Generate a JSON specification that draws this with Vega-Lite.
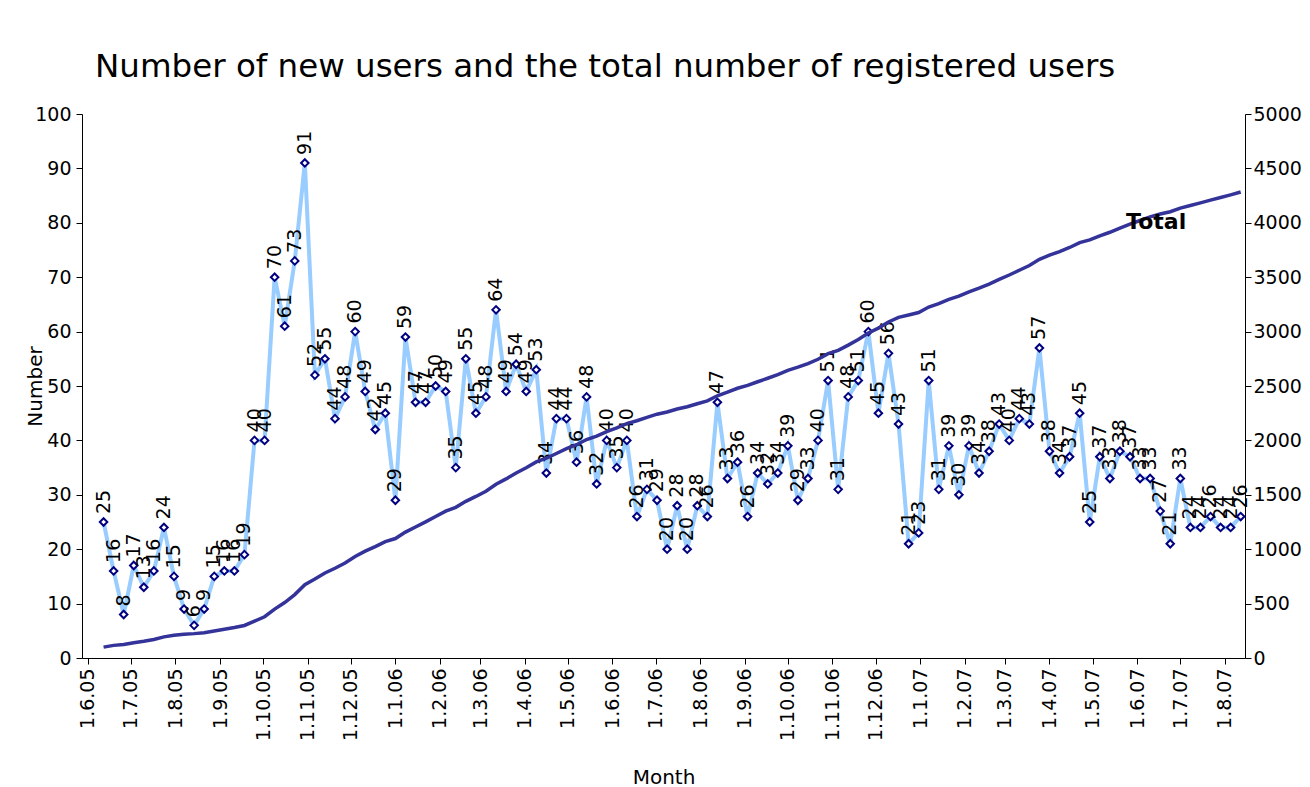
{
  "$schema": "https://vega.github.io/schema/vega-lite/v6.json",
  "width": 1163,
  "height": 544,
  "autosize": {"type": "none"},
  "padding": {"left": 82, "top": 114, "right": 65, "bottom": 129},
  "background": "white",
  "config": {
    "view": {"stroke": null},
    "font": "DejaVu Sans",
    "axis": {
      "labelFont": "DejaVu Sans",
      "titleFont": "DejaVu Sans",
      "labelColor": "black",
      "titleColor": "black",
      "domainColor": "black",
      "tickColor": "black",
      "grid": false,
      "labelFontSize": 19,
      "titleFontSize": 20,
      "titleFontWeight": "normal",
      "tickSize": 6
    }
  },
  "title": {
    "text": "Number of new users and the total number of registered users",
    "anchor": "start",
    "frame": "group",
    "dx": 13,
    "offset": 22,
    "font": "DejaVu Sans",
    "fontSize": 32.5,
    "fontWeight": "normal",
    "color": "black"
  },
  "data": {
    "format": {"parse": {"date": "date:'%Y-%m-%d'"}},
    "values": [
      {"date": "2005-06-12", "new": 25, "total": 100},
      {"date": "2005-06-19", "new": 16, "total": 116},
      {"date": "2005-06-26", "new": 8, "total": 124},
      {"date": "2005-07-03", "new": 17, "total": 141},
      {"date": "2005-07-10", "new": 13, "total": 154},
      {"date": "2005-07-17", "new": 16, "total": 170},
      {"date": "2005-07-24", "new": 24, "total": 194},
      {"date": "2005-07-31", "new": 15, "total": 209},
      {"date": "2005-08-07", "new": 9, "total": 218},
      {"date": "2005-08-14", "new": 6, "total": 224},
      {"date": "2005-08-21", "new": 9, "total": 233},
      {"date": "2005-08-28", "new": 15, "total": 248},
      {"date": "2005-09-04", "new": 16, "total": 264},
      {"date": "2005-09-11", "new": 16, "total": 280},
      {"date": "2005-09-18", "new": 19, "total": 299},
      {"date": "2005-09-25", "new": 40, "total": 339},
      {"date": "2005-10-02", "new": 40, "total": 379},
      {"date": "2005-10-09", "new": 70, "total": 449},
      {"date": "2005-10-16", "new": 61, "total": 510},
      {"date": "2005-10-23", "new": 73, "total": 583},
      {"date": "2005-10-30", "new": 91, "total": 674},
      {"date": "2005-11-06", "new": 52, "total": 726},
      {"date": "2005-11-13", "new": 55, "total": 781},
      {"date": "2005-11-20", "new": 44, "total": 825},
      {"date": "2005-11-27", "new": 48, "total": 873},
      {"date": "2005-12-04", "new": 60, "total": 933},
      {"date": "2005-12-11", "new": 49, "total": 982},
      {"date": "2005-12-18", "new": 42, "total": 1024},
      {"date": "2005-12-25", "new": 45, "total": 1069},
      {"date": "2006-01-01", "new": 29, "total": 1098},
      {"date": "2006-01-08", "new": 59, "total": 1157},
      {"date": "2006-01-15", "new": 47, "total": 1204},
      {"date": "2006-01-22", "new": 47, "total": 1251},
      {"date": "2006-01-29", "new": 50, "total": 1301},
      {"date": "2006-02-05", "new": 49, "total": 1350},
      {"date": "2006-02-12", "new": 35, "total": 1385},
      {"date": "2006-02-19", "new": 55, "total": 1440},
      {"date": "2006-02-26", "new": 45, "total": 1485},
      {"date": "2006-03-05", "new": 48, "total": 1533},
      {"date": "2006-03-12", "new": 64, "total": 1597},
      {"date": "2006-03-19", "new": 49, "total": 1646},
      {"date": "2006-03-26", "new": 54, "total": 1700},
      {"date": "2006-04-02", "new": 49, "total": 1749},
      {"date": "2006-04-09", "new": 53, "total": 1802},
      {"date": "2006-04-16", "new": 34, "total": 1836},
      {"date": "2006-04-23", "new": 44, "total": 1880},
      {"date": "2006-04-30", "new": 44, "total": 1924},
      {"date": "2006-05-07", "new": 36, "total": 1960},
      {"date": "2006-05-14", "new": 48, "total": 2008},
      {"date": "2006-05-21", "new": 32, "total": 2040},
      {"date": "2006-05-28", "new": 40, "total": 2080},
      {"date": "2006-06-04", "new": 35, "total": 2115},
      {"date": "2006-06-11", "new": 40, "total": 2155},
      {"date": "2006-06-18", "new": 26, "total": 2181},
      {"date": "2006-06-25", "new": 31, "total": 2212},
      {"date": "2006-07-02", "new": 29, "total": 2241},
      {"date": "2006-07-09", "new": 20, "total": 2261},
      {"date": "2006-07-16", "new": 28, "total": 2289},
      {"date": "2006-07-23", "new": 20, "total": 2309},
      {"date": "2006-07-30", "new": 28, "total": 2337},
      {"date": "2006-08-06", "new": 26, "total": 2363},
      {"date": "2006-08-13", "new": 47, "total": 2410},
      {"date": "2006-08-20", "new": 33, "total": 2443},
      {"date": "2006-08-27", "new": 36, "total": 2479},
      {"date": "2006-09-03", "new": 26, "total": 2505},
      {"date": "2006-09-10", "new": 34, "total": 2539},
      {"date": "2006-09-17", "new": 32, "total": 2571},
      {"date": "2006-09-24", "new": 34, "total": 2605},
      {"date": "2006-10-01", "new": 39, "total": 2644},
      {"date": "2006-10-08", "new": 29, "total": 2673},
      {"date": "2006-10-15", "new": 33, "total": 2706},
      {"date": "2006-10-22", "new": 40, "total": 2746},
      {"date": "2006-10-29", "new": 51, "total": 2797},
      {"date": "2006-11-05", "new": 31, "total": 2828},
      {"date": "2006-11-12", "new": 48, "total": 2876},
      {"date": "2006-11-19", "new": 51, "total": 2927},
      {"date": "2006-11-26", "new": 60, "total": 2987},
      {"date": "2006-12-03", "new": 45, "total": 3032},
      {"date": "2006-12-10", "new": 56, "total": 3088},
      {"date": "2006-12-17", "new": 43, "total": 3131},
      {"date": "2006-12-24", "new": 21, "total": 3152},
      {"date": "2006-12-31", "new": 23, "total": 3175},
      {"date": "2007-01-07", "new": 51, "total": 3226},
      {"date": "2007-01-14", "new": 31, "total": 3257},
      {"date": "2007-01-21", "new": 39, "total": 3296},
      {"date": "2007-01-28", "new": 30, "total": 3326},
      {"date": "2007-02-04", "new": 39, "total": 3365},
      {"date": "2007-02-11", "new": 34, "total": 3399},
      {"date": "2007-02-18", "new": 38, "total": 3437},
      {"date": "2007-02-25", "new": 43, "total": 3480},
      {"date": "2007-03-04", "new": 40, "total": 3520},
      {"date": "2007-03-11", "new": 44, "total": 3564},
      {"date": "2007-03-18", "new": 43, "total": 3607},
      {"date": "2007-03-25", "new": 57, "total": 3664},
      {"date": "2007-04-01", "new": 38, "total": 3702},
      {"date": "2007-04-08", "new": 34, "total": 3736},
      {"date": "2007-04-15", "new": 37, "total": 3773},
      {"date": "2007-04-22", "new": 45, "total": 3818},
      {"date": "2007-04-29", "new": 25, "total": 3843},
      {"date": "2007-05-06", "new": 37, "total": 3880},
      {"date": "2007-05-13", "new": 33, "total": 3913},
      {"date": "2007-05-20", "new": 38, "total": 3951},
      {"date": "2007-05-27", "new": 37, "total": 3988},
      {"date": "2007-06-03", "new": 33, "total": 4021},
      {"date": "2007-06-10", "new": 33, "total": 4054},
      {"date": "2007-06-17", "new": 27, "total": 4081},
      {"date": "2007-06-24", "new": 21, "total": 4102},
      {"date": "2007-07-01", "new": 33, "total": 4135},
      {"date": "2007-07-08", "new": 24, "total": 4159},
      {"date": "2007-07-15", "new": 24, "total": 4183},
      {"date": "2007-07-22", "new": 26, "total": 4209},
      {"date": "2007-07-29", "new": 24, "total": 4233},
      {"date": "2007-08-05", "new": 24, "total": 4257},
      {"date": "2007-08-12", "new": 26, "total": 4283}
    ]
  },
  "encoding": {
    "x": {
      "field": "date",
      "type": "temporal",
      "scale": {
        "domain": [
          {"year": 2005, "month": "May", "date": 28},
          {"year": 2007, "month": "Aug", "date": 15}
        ],
        "nice": false
      },
      "axis": {
        "title": "Month",
        "format": "%-d.%-m.%y",
        "tickCount": {"interval": "month", "step": 1},
        "labelAngle": 270,
        "labelAlign": "right",
        "labelBaseline": "middle",
        "labelPadding": 4,
        "labelOverlap": false,
        "labelFlush": false,
        "titleBaseline": "middle",
        "titleY": 119
      }
    }
  },
  "layer": [
    {
      "encoding": {
        "y": {
          "field": "new",
          "type": "quantitative",
          "scale": {"domain": [0, 100], "nice": false},
          "axis": {
            "orient": "left",
            "title": "Number",
            "values": [0, 10, 20, 30, 40, 50, 60, 70, 80, 90, 100],
            "labelPadding": 5,
            "titleX": -47,
            "titleY": 272,
            "titleAngle": 270,
            "titleAlign": "center",
            "titleBaseline": "middle"
          }
        }
      },
      "layer": [
        {
          "mark": {"type": "line", "color": "#99CCFF", "strokeWidth": 4}
        },
        {
          "mark": {
            "type": "point",
            "shape": "diamond",
            "filled": true,
            "fill": "white",
            "stroke": "#000080",
            "strokeWidth": 2,
            "size": 56,
            "opacity": 1
          }
        },
        {
          "mark": {
            "type": "text",
            "angle": 270,
            "align": "left",
            "baseline": "middle",
            "dx": 8,
            "fontSize": 19,
            "font": "DejaVu Sans",
            "color": "black"
          },
          "encoding": {"text": {"field": "new", "type": "quantitative"}}
        }
      ]
    },
    {
      "encoding": {
        "y": {
          "field": "total",
          "type": "quantitative",
          "scale": {"domain": [0, 5000], "nice": false},
          "axis": {
            "orient": "right",
            "title": null,
            "values": [0, 500, 1000, 1500, 2000, 2500, 3000, 3500, 4000, 4500, 5000],
            "format": "d",
            "labelPadding": 2
          }
        }
      },
      "layer": [
        {
          "mark": {"type": "line", "color": "#333399", "strokeWidth": 3.5}
        },
        {
          "transform": [{"filter": "datum.total == 4054"}],
          "mark": {
            "type": "text",
            "text": "Total",
            "align": "center",
            "baseline": "middle",
            "dx": 6,
            "dy": 5,
            "fontSize": 22,
            "fontWeight": "bold",
            "font": "DejaVu Sans",
            "color": "black"
          }
        }
      ]
    }
  ],
  "resolve": {"scale": {"y": "independent"}}
}
